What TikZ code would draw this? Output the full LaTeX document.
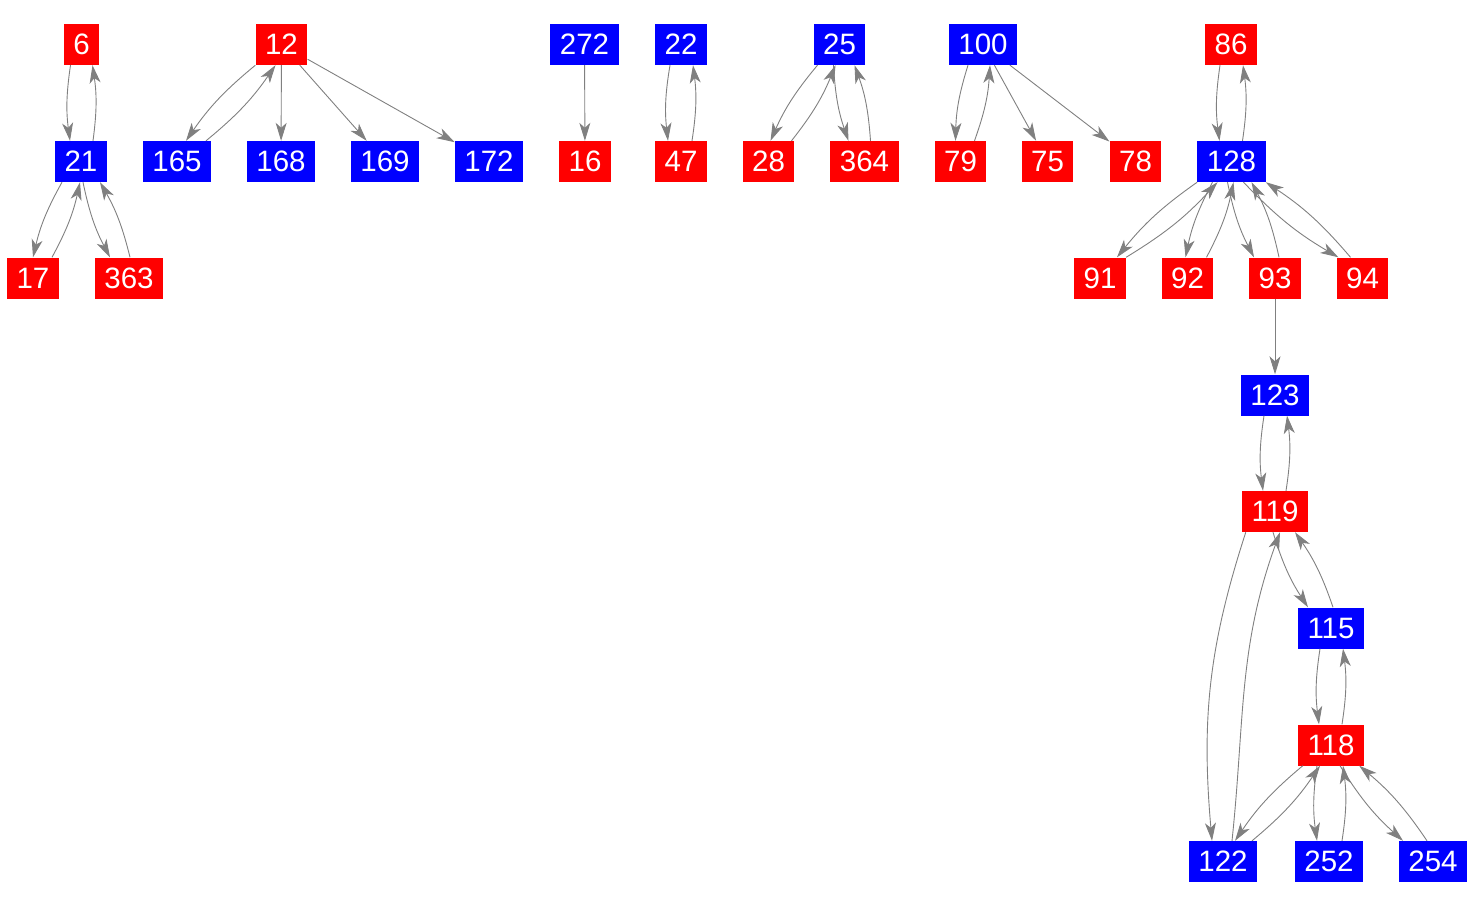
\documentclass[tikz,border=0pt]{standalone}
\usepackage{fontspec}
\setmainfont{Liberation Sans}
\usetikzlibrary{arrows.meta}

\begin{document}
\begin{tikzpicture}
[every node/.style={inner sep=0pt},
 rnode/.style={rectangle, fill=red, text=white, inner xsep=9.5pt, minimum height=41pt, font=\fontsize{29.5}{34}\selectfont},
 bnode/.style={rnode, fill=blue},
 >={Stealth[length=18pt, width=11pt, inset=5pt]},
 edge/.style={line width=0.9pt, color=gray, ->},
 pair/.style={bend right=8}]
\useasboundingbox (0pt, 0pt) rectangle (1475pt, -908pt);
\node (6) [rnode] at (81.5pt, -44.5pt) {6};
\node (21) [bnode] at (81.0pt, -161.5pt) {21};
\node (17) [rnode] at (33.0pt, -278.0pt) {17};
\node (363) [rnode] at (129.0pt, -278.0pt) {363};
\node (12) [rnode] at (281.5pt, -44.5pt) {12};
\node (165) [bnode] at (177.0pt, -161.5pt) {165};
\node (168) [bnode] at (281.0pt, -161.5pt) {168};
\node (169) [bnode] at (385.0pt, -161.5pt) {169};
\node (172) [bnode] at (489.0pt, -161.5pt) {172};
\node (272) [bnode] at (584.5pt, -44.5pt) {272};
\node (16) [rnode] at (585.0pt, -161.5pt) {16};
\node (22) [bnode] at (681.0pt, -44.5pt) {22};
\node (47) [rnode] at (681.0pt, -161.5pt) {47};
\node (25) [bnode] at (839.5pt, -44.5pt) {25};
\node (28) [rnode] at (768.5pt, -161.5pt) {28};
\node (364) [rnode] at (864.5pt, -161.5pt) {364};
\node (100) [bnode] at (983.0pt, -44.5pt) {100};
\node (79) [rnode] at (960.5pt, -161.5pt) {79};
\node (75) [rnode] at (1047.5pt, -161.5pt) {75};
\node (78) [rnode] at (1135.5pt, -161.5pt) {78};
\node (86) [rnode] at (1231.0pt, -44.5pt) {86};
\node (128) [bnode] at (1231.5pt, -161.5pt) {128};
\node (91) [rnode] at (1100.0pt, -278.0pt) {91};
\node (92) [rnode] at (1187.5pt, -278.0pt) {92};
\node (93) [rnode] at (1275.0pt, -278.0pt) {93};
\node (94) [rnode] at (1362.5pt, -278.0pt) {94};
\node (123) [bnode] at (1275.0pt, -395.0pt) {123};
\node (119) [rnode] at (1275.0pt, -511.5pt) {119};
\node (115) [bnode] at (1331.0pt, -628.0pt) {115};
\node (118) [rnode] at (1331.0pt, -745.0pt) {118};
\node (122) [bnode] at (1223.0pt, -861.5pt) {122};
\node (252) [bnode] at (1329.0pt, -861.5pt) {252};
\node (254) [bnode] at (1433.0pt, -861.5pt) {254};
\draw [edge] ([xshift=-11pt]6.south) to [pair] ([xshift=-11pt]21.north);
\draw [edge] ([xshift=12pt]21.north) to [pair] ([xshift=11pt]6.south);
\draw [edge] ([xshift=-19pt]21.south) to [pair] (17.north);
\draw [edge] ([xshift=19pt]17.north) to [pair] ([xshift=-1pt]21.south);
\draw [edge] ([xshift=2pt]21.south) to [pair] ([xshift=-19pt]363.north);
\draw [edge] ([xshift=1pt]363.north) to [pair] ([xshift=19pt]21.south);
\draw [edge] (12.south west) to [pair] ([xshift=9pt]165.north);
\draw [edge] ([xshift=29pt]165.north) to [pair] ([xshift=-6pt]12.south);
\draw [edge] (12) to (168);
\draw [edge] (12) to (169);
\draw [edge] (12) to (172);
\draw [edge] (272) to (16);
\draw [edge] ([xshift=-11pt]22.south) to [pair] ([xshift=-13pt]47.north);
\draw [edge] ([xshift=11pt]47.north) to [pair] ([xshift=12pt]22.south);
\draw [edge] ([xshift=-22pt]25.south) to [pair] ([xshift=2pt]28.north);
\draw [edge] ([xshift=23pt]28.north) to [pair] ([xshift=-4pt]25.south);
\draw [edge] ([xshift=-6pt]25.south) to [pair] ([xshift=-16pt]364.north);
\draw [edge] ([xshift=6pt]364.north) to [pair] ([xshift=15pt]25.south);
\draw [edge] ([xshift=-15pt]100.south) to [pair] ([xshift=-5pt]79.north);
\draw [edge] ([xshift=14pt]79.north) to [pair] ([xshift=7pt]100.south);
\draw [edge] (100) to (75);
\draw [edge] (100) to (78);
\draw [edge] ([xshift=-11pt]86.south) to [pair] ([xshift=-12pt]128.north);
\draw [edge] ([xshift=11pt]128.north) to [pair] ([xshift=12pt]86.south);
\draw [edge] (128.south west) to [pair] ([xshift=17pt]91.north);
\draw [edge] (91.north east) to [pair] ([xshift=-14pt]128.south);
\draw [edge] ([xshift=-19pt]128.south) to [pair] ([xshift=-2pt]92.north);
\draw [edge] ([xshift=19pt]92.north) to [pair] ([xshift=2pt]128.south);
\draw [edge] ([xshift=-4pt]128.south) to [pair] ([xshift=-21pt]93.north);
\draw [edge] ([xshift=4pt]93.north) to [pair] ([xshift=20pt]128.south);
\draw [edge] ([xshift=12pt]128.south) to [pair] ([xshift=2pt]94.north west);
\draw [edge] ([xshift=-12pt]94.north) to [pair] (128.south east);
\draw [edge] (93) to (123);
\draw [edge] ([xshift=-11pt]123.south) to [pair] ([xshift=-12pt]119.north);
\draw [edge] ([xshift=11pt]119.north) to [pair] ([xshift=12pt]123.south);
\draw [edge] ([xshift=4pt]119.south west) to [out=-108, in=95] ([xshift=-11pt]122.north);
\draw [edge] ([xshift=9pt]122.north) to [out=84, in=-110] ([xshift=5pt]119.south);
\draw [edge] ([xshift=-2pt]119.south) to [pair] ([xshift=-23pt]115.north);
\draw [edge] ([xshift=2pt]115.north) to [pair] ([xshift=20pt]119.south);
\draw [edge] ([xshift=-11pt]115.south) to [pair] ([xshift=-12pt]118.north);
\draw [edge] ([xshift=11pt]118.north) to [pair] ([xshift=12pt]115.south);
\draw [edge] ([xshift=5pt]118.south west) to [pair] ([xshift=12pt]122.north);
\draw [edge] ([xshift=29pt]122.north) to [pair] ([xshift=-11pt]118.south);
\draw [edge] ([xshift=-14pt]118.south) to [pair] ([xshift=-12pt]252.north);
\draw [edge] ([xshift=13pt]252.north) to [pair] ([xshift=12pt]118.south);
\draw [edge] ([xshift=9pt]118.south) to [pair] ([xshift=-30pt]254.north);
\draw [edge] ([xshift=-6pt]254.north) to [pair] ([xshift=-5pt]118.south east);
\end{tikzpicture}
\end{document}
